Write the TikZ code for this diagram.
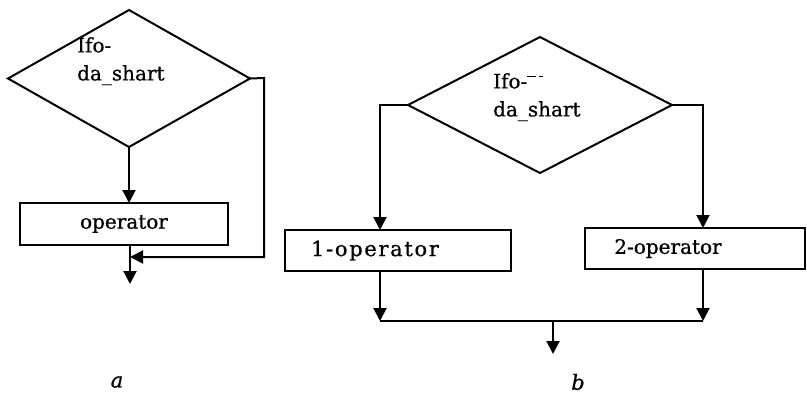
\documentclass[tikz,border=0pt]{standalone}
\usepackage{fontspec}
\setmainfont{DejaVu Serif}[FakeBold=0.7]
\usetikzlibrary{shapes.geometric,arrows.meta}
\begin{document}
\begin{tikzpicture}[x=1pt,y=-1pt,
  every node/.style={font=\fontsize{20}{28}\selectfont},
  flow/.style={line width=2pt},
  arr/.style={flow,-{Triangle[width=13pt,length=13pt]}},
  cond/.style={draw,line width=2pt,shape=diamond,inner sep=0pt,outer sep=0pt},
  opbox/.style={draw,line width=2pt,rectangle,inner sep=0pt,outer sep=0pt},
  lbl/.style={inner sep=0pt,align=left,anchor=north west},
  figcaption/.style={inner sep=0pt,font=\fontsize{21}{24}\itshape\selectfont}]
\useasboundingbox (0,0) rectangle (807,394);

% ---- a: single-branch condition ----
\node[cond,minimum width=242pt,minimum height=137pt] (da) at (129,78.5) {};
\node[lbl] (ta) at (77,37) {Ifo-\\da\_shart};
\node[opbox,minimum width=208pt,minimum height=42pt] (op) at (124,224) {operator};
\coordinate (ja) at (130,257);
\coordinate (ra) at (264,78);
\coordinate (ea) at (130,284);
\draw[arr] (da.south) -- (da.south |- op.north);
\draw[arr] (da.east) -- (ra) -- (ra |- ja) -- (ja);
\draw[arr] (op.south -| ja) -- (ea);

% ---- b: two-branch condition ----
\node[cond,minimum width=264pt,minimum height=136pt] (db) at (540,105) {};
\node[lbl] (tb) at (493,73) {Ifo-\raisebox{0.55em}{\rule{9pt}{0.9pt}\hspace{3pt}\rule{4pt}{0.9pt}}\\da\_shart};
\node[opbox,minimum width=226pt,minimum height=41pt] (o1) at (398,250.5)
  {{\fontsize{21}{24}\selectfont\addfontfeature{LetterSpace=8}1-operator}\kern46pt};
\node[opbox,minimum width=220pt,minimum height=41pt] (o2) at (695,248.5) {2-operator\kern54pt};
\coordinate (lb) at (380,105);
\coordinate (rb) at (703,105);
\coordinate (m1) at (380,321);
\coordinate (m2) at (703,321);
\coordinate (mb) at (553,321);
\coordinate (eb) at (553,354);
\draw[arr] (db.west) -- (lb) -- (lb |- o1.north);
\draw[arr] (db.east) -- (rb) -- (rb |- o2.north);
\draw[arr] (o1.south -| m1) -- (m1);
\draw[arr] (o2.south -| m2) -- (m2);
\draw[flow] (m1) -- (m2);
\draw[arr] (mb) -- (eb);

% ---- captions ----
\node[figcaption] (ca) at (117,382) {a};
\node[figcaption] (cb) at (578,382) {b};
\end{tikzpicture}
\end{document}
